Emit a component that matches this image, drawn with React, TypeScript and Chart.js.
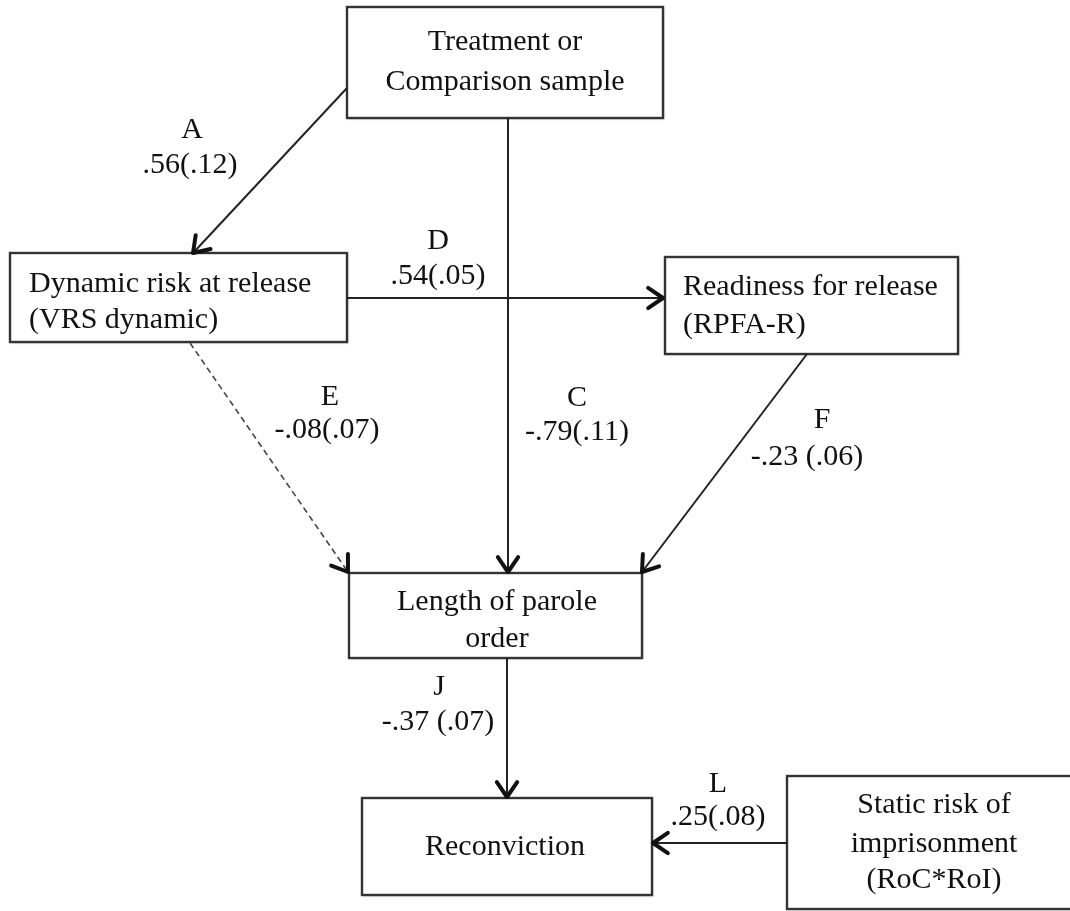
import React, { useEffect, useRef } from "react";
import { Chart, registerables } from "chart.js";

Chart.register(...registerables);

// ---- Diagram content ----
const nodeLines: string[][] = [
  ["Treatment or", "Comparison sample"],
  ["Dynamic risk at release", "(VRS dynamic)"],
  ["Readiness for release", "(RPFA-R)"],
  ["Length of parole", "order"],
  ["Reconviction"],
  ["Static risk of", "imprisonment", "(RoC*RoI)"],
];
// box extents in diagram units: [x1, y1, x2, y2]
const nodeBox: number[][] = [
  [347, 7, 663, 118],
  [10, 253, 347, 342],
  [665, 257, 958, 354],
  [349, 573, 642, 658],
  [362, 798, 652, 895],
  [787, 776, 1085, 909],
];
const nodeAlign: string[] = ["center", "left", "left", "center", "center", "center"];
const nodeTextX: number[] = [505, 29, 683, 497, 505, 934];
const nodeBaselines: number[][] = [
  [50, 90],
  [292, 328],
  [295, 333],
  [610, 647],
  [855],
  [813, 852, 888],
];

const pathLetters: string[] = ["A", "C", "D", "E", "F", "J", "L"];
const pathCoefs: string[] = [".56(.12)", "-.79(.11)", ".54(.05)", "-.08(.07)", "-.23 (.06)", "-.37 (.07)", ".25(.08)"];
const pathFrom: number[][] = [
  [347, 88],
  [508, 118],
  [347, 298],
  [190, 343],
  [807, 354],
  [507, 658],
  [787, 843],
];
const pathTo: number[][] = [
  [193, 253],
  [508, 572],
  [663, 298],
  [348, 572],
  [642, 572],
  [507, 797],
  [653, 843],
];
const pathDashed: boolean[] = [false, false, false, true, false, false, false];
const letterPos: number[][] = [
  [192, 130],
  [577, 398],
  [438, 241],
  [330, 397],
  [822, 420],
  [439, 687],
  [718, 784],
];
const coefPos: number[][] = [
  [190, 165],
  [577, 432],
  [438, 276],
  [327, 430],
  [807, 457],
  [438, 722],
  [718, 817],
];

const FONT = "30px 'Liberation Serif', 'Times New Roman', serif";

const diagramPlugin = {
  id: "pathDiagram",
  afterDraw(chart: any) {
    const ctx: CanvasRenderingContext2D = chart.ctx;
    const xs = chart.scales.x;
    const ys = chart.scales.y;
    const px = (v: number) => xs.getPixelForValue(v);
    const py = (v: number) => ys.getPixelForValue(v);

    ctx.save();
    // boxes
    nodeBox.forEach((b) => {
      const x1 = px(b[0]);
      const y1 = py(b[1]);
      const x2 = px(b[2]);
      const y2 = py(b[3]);
      ctx.save();
      ctx.fillStyle = "#ffffff";
      ctx.shadowColor = "rgba(0,0,0,0.3)";
      ctx.shadowBlur = 2;
      ctx.shadowOffsetX = 1;
      ctx.shadowOffsetY = 1;
      ctx.fillRect(x1, y1, x2 - x1, y2 - y1);
      ctx.restore();
      ctx.strokeStyle = "#333333";
      ctx.lineWidth = 2.4;
      ctx.strokeRect(x1, y1, x2 - x1, y2 - y1);
    });

    // arrows
    pathFrom.forEach((f, i) => {
      const t = pathTo[i];
      const x1 = px(f[0]);
      const y1 = py(f[1]);
      const x2 = px(t[0]);
      const y2 = py(t[1]);
      ctx.save();
      ctx.strokeStyle = pathDashed[i] ? "#444444" : "#222222";
      ctx.lineWidth = pathDashed[i] ? 1.6 : 2;
      if (pathDashed[i]) ctx.setLineDash([6, 4]);
      ctx.beginPath();
      ctx.moveTo(x1, y1);
      ctx.lineTo(x2, y2);
      ctx.stroke();
      ctx.setLineDash([]);
      // open chevron head
      const ang = Math.atan2(y2 - y1, x2 - x1);
      const len = 18;
      const spread = 0.6;
      ctx.strokeStyle = "#111111";
      ctx.lineWidth = 4;
      ctx.lineCap = "round";
      ctx.lineJoin = "round";
      ctx.beginPath();
      ctx.moveTo(x2 - len * Math.cos(ang - spread), y2 - len * Math.sin(ang - spread));
      ctx.lineTo(x2, y2);
      ctx.lineTo(x2 - len * Math.cos(ang + spread), y2 - len * Math.sin(ang + spread));
      ctx.stroke();
      ctx.restore();
    });

    // node text
    ctx.fillStyle = "#111111";
    ctx.font = FONT;
    ctx.textBaseline = "alphabetic";
    nodeLines.forEach((lines, i) => {
      ctx.textAlign = nodeAlign[i] as CanvasTextAlign;
      lines.forEach((ln, j) => {
        ctx.fillText(ln, px(nodeTextX[i]), py(nodeBaselines[i][j]));
      });
    });

    // path labels
    ctx.textAlign = "center";
    ctx.textBaseline = "middle";
    pathLetters.forEach((l, i) => {
      ctx.fillText(l, px(letterPos[i][0]), py(letterPos[i][1]));
      ctx.fillText(pathCoefs[i], px(coefPos[i][0]), py(coefPos[i][1]));
    });
    ctx.restore();
  },
};

export default function App() {
  const canvasRef = useRef<HTMLCanvasElement | null>(null);

  useEffect(() => {
    if (!canvasRef.current) return;
    const chart = new Chart(canvasRef.current, {
      type: "scatter",
      data: {
        datasets: [
          {
            label: "paths",
            data: letterPos.map((p) => ({ x: p[0], y: p[1] })),
            pointRadius: 0,
            pointHoverRadius: 0,
          },
        ],
      },
      options: {
        animation: false,
        responsive: false,
        devicePixelRatio: 1,
        layout: { padding: 0 },
        scales: {
          x: { type: "linear", min: 0, max: 1070, display: false },
          y: { type: "linear", min: 0, max: 911, reverse: true, display: false },
        },
        plugins: {
          legend: { display: false },
          tooltip: { enabled: false },
          title: { display: false },
        },
        events: [],
      },
      plugins: [diagramPlugin],
    });
    return () => chart.destroy();
  }, []);

  return (
    <div
      style={{
        position: "fixed",
        left: 0,
        top: 0,
        width: 1070,
        height: 911,
        background: "#ffffff",
        overflow: "hidden",
      }}
    >
      <canvas ref={canvasRef} width={1070} height={911} style={{ display: "block" }} />
    </div>
  );
}
